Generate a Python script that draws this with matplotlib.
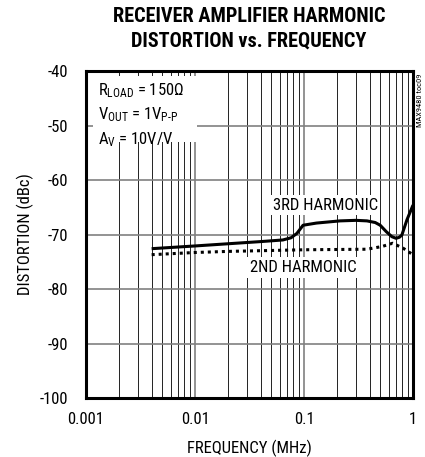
import numpy as np
import matplotlib
matplotlib.use('Agg')
import matplotlib.pyplot as plt
from matplotlib.patches import Rectangle
from matplotlib.ticker import FixedLocator, NullFormatter

plt.rcParams['font.family'] = ['Roboto Condensed', 'Archivo Narrow', 'DejaVu Sans']
plt.rcParams['axes.unicode_minus'] = False
plt.rcParams['mathtext.fontset'] = 'custom'
plt.rcParams['mathtext.rm'] = 'Roboto Condensed'

# 3rd harmonic (solid line)
freq3 = [0.004, 0.01, 0.02, 0.04, 0.064, 0.076, 0.086, 0.098, 0.13, 0.214, 0.3, 0.378,
         0.45, 0.5, 0.57, 0.64, 0.7, 0.75, 0.79, 0.88, 1.0]
dist3 = [-72.6, -72.1, -71.7, -71.3, -71.0, -70.6, -69.8, -68.3, -67.9, -67.5, -67.4, -67.5,
         -67.8, -68.3, -69.5, -70.4, -70.7, -70.5, -70.1, -67.3, -64.6]
# 2nd harmonic (dotted line)
freq2 = [0.004, 0.01, 0.02, 0.1, 0.378, 0.52, 0.65, 0.81, 0.98]
dist2 = [-73.7, -73.3, -73.1, -72.8, -72.7, -72.2, -71.6, -72.5, -73.6]

xticks = [0.001, 0.01, 0.1, 1]
xlabels = ['0.001', '0.01', '0.1', '1']
yticks = [-40, -50, -60, -70, -80, -90, -100]

fig = plt.figure(figsize=(4.25, 4.57), dpi=100, facecolor='white')
ax = fig.add_axes([0.2024, 0.1291, 0.7694, 0.7155])
ax.set_xscale('log')
ax.set_xlim(0.001, 1)
ax.set_ylim(-100, -40)

# grid: thin black minor verticals, gray decade / 10 dB lines
minors = [m * 10.0 ** d for d in (-3, -2, -1) for m in range(2, 10)]
for f in minors:
    ax.axvline(f, color='#222222', lw=0.7, zorder=1)
for f in xticks:
    ax.axvline(f, color='#808080', lw=1.2, zorder=1)
for v in yticks:
    ax.axhline(v, color='#808080', lw=1.2, zorder=1)

ax.plot(freq3, dist3, color='black', lw=2.2, solid_capstyle='butt', zorder=4)
ax.plot(freq2, dist2, color='black', lw=2.2, linestyle=(0, (1, 1.3)), dash_capstyle='butt', zorder=4)

ax.xaxis.set_major_locator(FixedLocator(xticks))
ax.xaxis.set_minor_locator(FixedLocator(minors))
ax.xaxis.set_minor_formatter(NullFormatter())
ax.set_xticklabels(xlabels)
ax.set_yticks(yticks)
ax.tick_params(axis='x', which='both', length=0, labelsize=12, pad=10)
ax.tick_params(axis='y', which='both', length=0, labelsize=12, pad=13)

for s in ax.spines.values():
    s.set_linewidth(2.2)
    s.set_zorder(6)

ax.set_xlabel('FREQUENCY (MHz)', fontsize=12, labelpad=9)
ax.set_ylabel('DISTORTION (dBc)', fontsize=12, labelpad=4)

fig.text(0.586, 0.985, 'RECEIVER AMPLIFIER HARMONIC\nDISTORTION vs. FREQUENCY',
         ha='center', va='top', fontsize=14.6, fontweight='bold', linespacing=1.4)

# white panel behind the conditions text
ax.add_patch(Rectangle((0.021, 0.783), 0.318, 0.202, transform=ax.transAxes,
                       facecolor='white', edgecolor='none', zorder=3))
ax.text(0.00129, -44.4, '$\\mathregular{R_{LOAD}}$ = 150Ω', ha='left', va='baseline',
        fontsize=12, zorder=5)
ax.text(0.00129, -48.8, '$\\mathregular{V_{OUT}}$ = 1$\\mathregular{V_{P\\text{-}P}}$', ha='left', va='baseline',
        fontsize=12, zorder=5)
ax.text(0.00129, -53.4, '$\\mathregular{A_{V}}$ = 10V/V', ha='left', va='baseline',
        fontsize=12, zorder=5)

box = dict(facecolor='white', edgecolor='none', pad=2)
ax.text(0.156, -64.6, '3RD HARMONIC', ha='center', va='center', fontsize=12, bbox=box, zorder=5)
ax.text(0.098, -76.0, '2ND HARMONIC', ha='center', va='center', fontsize=12, bbox=box, zorder=5)

fig.text(0.988, 0.78, 'MAX9480 toc09', rotation=90, ha='center', va='center', fontsize=6)

fig.savefig('out.png', dpi=100, facecolor='white')
